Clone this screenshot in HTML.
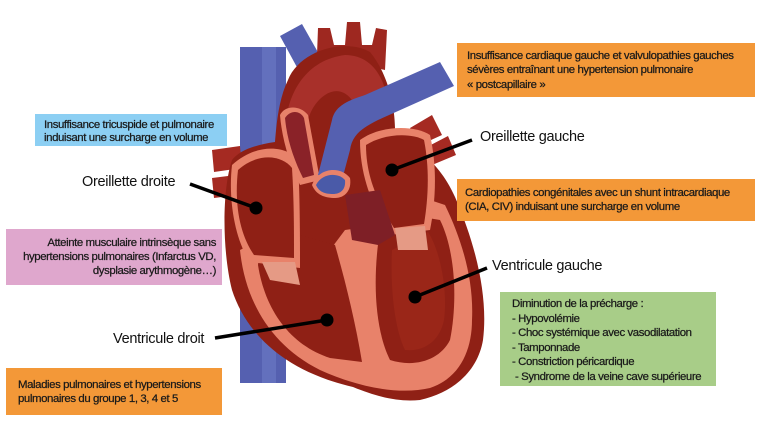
<!DOCTYPE html>
<html><head><meta charset="utf-8"><style>
body{margin:0;background:#fff}
svg{display:block}
text{font-family:"Liberation Sans",sans-serif}
.s{font-size:11.4px;letter-spacing:-0.4px;fill:#1a1a1a;stroke:#1a1a1a;stroke-width:0.25px}
.l{font-size:14.5px;letter-spacing:-0.3px;fill:#111}
</style></head><body>
<svg width="769" height="431" viewBox="0 0 769 431" xmlns="http://www.w3.org/2000/svg">
<rect x="240" y="47" width="46" height="336" fill="#5560b0"/>
<rect x="262" y="47" width="14" height="336" fill="#6370bd"/>
<path d="M280,36 L302,24 L328,70 L305,82 Z" fill="#5560b0"/>
<path d="M212,150 L240,146 L242,168 L214,172 Z" fill="#a52a22"/>
<path d="M212,178 L236,175 L238,195 L214,198 Z" fill="#a52a22"/>
<path d="M410,128 L432,115 L442,135 L420,145 Z" fill="#a52a22"/>
<path d="M425,148 L448,136 L456,155 L432,165 Z" fill="#a52a22"/>
<path d="M317,55 L318,28 L330,28 L334,45 L345,45 L347,22 L360,22 L362,45 L372,45 L376,28 L387,30 L385,70 Z" fill="#9e2820"/>
<path d="M232,160 C222,190 222,250 232,290 C245,330 280,370 353,387 C380,398 400,402 420,400 C455,392 478,370 483,340 C488,300 478,250 455,197 C445,175 435,165 420,150 L395,130 C395,100 385,70 370,52 C345,38 300,50 288,80 C278,100 276,130 275,142 C255,145 240,150 232,160 Z" fill="#8f2015"/>
<path d="M285,135 C285,95 305,60 345,55 C370,55 385,75 388,105 L360,120 C355,95 340,85 325,95 C310,105 305,125 305,140 Z" fill="#a8302a"/>
<path d="M240,250 C245,300 270,345 320,370 C360,388 400,395 430,388 C460,378 472,350 472,320 C474,280 462,240 445,205 L430,200 C420,230 405,280 392,300 L380,225 L345,230 L330,250 L260,240 Z" fill="#e8826a"/>
<path d="M258,265 C265,310 290,345 330,358 L362,362 C355,320 345,280 335,245 L300,235 L260,245 Z" fill="#8f2015"/>
<path d="M380,230 C372,280 375,330 390,360 C415,368 440,360 450,340 C458,300 455,250 440,220 L410,215 Z" fill="#8f2015"/>
<path d="M392,250 C390,290 395,330 405,350 C425,352 440,340 444,320 C448,290 440,250 428,232 Z" fill="#9a2618"/>
<path d="M232,165 C228,200 235,240 250,262 L300,268 C300,240 300,200 298,160 C290,148 260,140 232,165 Z" fill="#e8826a"/>
<path d="M238,170 C234,205 240,235 254,255 L294,258 C294,230 294,200 292,168 C282,155 258,152 238,170 Z" fill="#8f2015"/>
<path d="M262,262 L295,262 L300,285 L270,280 Z" fill="#e59a85"/>
<path d="M280,115 C285,105 300,105 308,115 L320,180 L300,185 C290,165 282,140 280,115 Z" fill="#e8826a"/>
<path d="M285,118 C290,110 300,110 304,118 L314,175 L303,178 C294,160 287,140 285,118 Z" fill="#8a2228"/>
<path d="M360,140 C380,125 415,125 430,135 C438,170 435,205 430,230 L390,235 C375,210 360,180 360,140 Z" fill="#e8826a"/>
<path d="M366,145 C385,133 412,133 424,140 C430,170 428,200 424,224 L394,228 C380,205 366,180 366,145 Z" fill="#8f2015"/>
<path d="M395,228 L425,226 L428,250 L398,250 Z" fill="#e59a85"/>
<path d="M345,195 L380,190 L395,235 L378,245 L352,240 Z" fill="#7e1f26"/>
<path d="M318,175 L332,120 C335,105 350,100 365,95 L440,62 L454,86 L378,120 C362,128 352,135 350,150 L342,180 Z" fill="#5560b0"/>
<path d="M312,185 C318,168 340,165 350,178 C352,190 345,198 335,198 C325,198 316,195 312,185 Z" fill="#e8826a"/>
<path d="M316,185 C322,173 338,172 345,180 C346,190 340,194 333,194 C325,194 319,192 316,185 Z" fill="#4a5aa8"/>
<g stroke="#000" stroke-width="3.5" fill="none">
<line x1="472" y1="140" x2="392" y2="170"/>
<line x1="190" y1="184" x2="256" y2="208"/>
<line x1="487" y1="268" x2="415" y2="297"/>
<line x1="215" y1="338" x2="327" y2="320"/>
</g>
<g fill="#000">
<circle cx="392" cy="170" r="6.5"/><circle cx="256" cy="208" r="6.5"/>
<circle cx="415" cy="297" r="6.5"/><circle cx="327" cy="320" r="6.5"/>
</g>
<text class="l" x="480" y="141">Oreillette gauche</text>
<text class="l" x="82" y="186">Oreillette droite</text>
<text class="l" x="492" y="270">Ventricule gauche</text>
<text class="l" x="113" y="343">Ventricule droit</text>
<rect x="35" y="114" width="192" height="32" fill="#8ccff3"/>
<text class="s" x="44" y="128">Insuffisance tricuspide et pulmonaire</text>
<text class="s" x="44" y="141">induisant une surcharge en volume</text>
<rect x="457" y="43" width="298" height="54" fill="#f39838"/>
<text class="s" x="467" y="59">Insuffisance cardiaque gauche et valvulopathies gauches</text>
<text class="s" x="467" y="73">sévères entraînant une hypertension pulmonaire</text>
<text class="s" x="467" y="88">« postcapillaire »</text>
<rect x="457" y="179" width="298" height="42" fill="#f39838"/>
<text class="s" x="465" y="196">Cardiopathies congénitales avec un shunt intracardiaque</text>
<text class="s" x="465" y="210">(CIA, CIV) induisant une surcharge en volume</text>
<rect x="6" y="229" width="216" height="56" fill="#dfa7cd"/>
<text class="s" x="216" y="246" text-anchor="end">Atteinte musculaire intrinsèque sans</text>
<text class="s" x="216" y="260" text-anchor="end">hypertensions pulmonaires (Infarctus VD,</text>
<text class="s" x="216" y="274" text-anchor="end">dysplasie arythmogène…)</text>
<rect x="500" y="292" width="216" height="94" fill="#a8cd88"/>
<text class="s" x="512" y="307">Diminution de la précharge :</text>
<text class="s" x="512" y="322">- Hypovolémie</text>
<text class="s" x="512" y="336">- Choc systémique avec vasodilatation</text>
<text class="s" x="512" y="351">- Tamponnade</text>
<text class="s" x="512" y="365">- Constriction péricardique</text>
<text class="s" x="515" y="380">- Syndrome de la veine cave supérieure</text>
<rect x="6" y="368" width="216" height="47" fill="#f39838"/>
<text class="s" x="18" y="388">Maladies pulmonaires et hypertensions</text>
<text class="s" x="18" y="402">pulmonaires du groupe 1, 3, 4 et 5</text>
</svg>
</body></html>
